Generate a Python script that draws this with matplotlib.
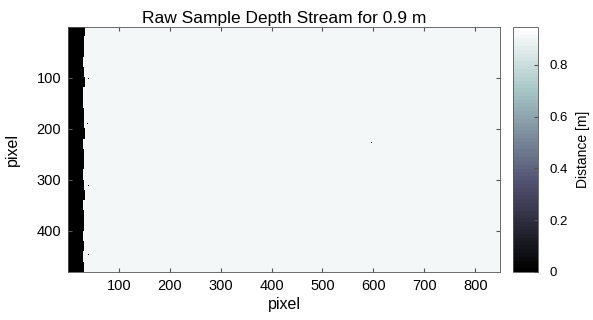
import numpy as np
import matplotlib.pyplot as plt

plt.rcParams['font.family'] = ['Liberation Sans', 'DejaVu Sans']

# sensor frame size
n_cols = 848
n_rows = 480

# flat wall distance [m] and colour limit
wall_depth = 0.905
clim_max = 0.947

# first valid column of each 20-row band (left invalid strip reads 0)
edge_cols = [33, 31, 32, 30, 31, 34, 30, 29, 31, 32, 33, 30,
             31, 32, 29, 31, 33, 30, 31, 32, 30, 31, 29, 32]

# isolated invalid pixels (col, row)
dead_cols = [39, 593, 38, 40, 39]
dead_rows = [102, 227, 190, 310, 445]

depth = np.full((n_rows, n_cols), wall_depth)
band = n_rows // len(edge_cols)
for i, c in enumerate(edge_cols):
    depth[i * band:(i + 1) * band, :c] = 0
for c, r in zip(dead_cols, dead_rows):
    depth[r:r + 2, c:c + 2] = 0

fig = plt.figure(figsize=(5.93, 3.2), dpi=100)
ax = fig.add_axes([0.1147, 0.15, 0.7285, 0.766])
cax = fig.add_axes([0.865, 0.15, 0.043, 0.766])

im = ax.imshow(depth, cmap=plt.get_cmap('bone', 64), vmin=0, vmax=clim_max,
               extent=[0.5, n_cols + 0.5, n_rows + 0.5, 0.5],
               interpolation='nearest', aspect='auto')
ax.set_xticks(range(100, 900, 100))
ax.set_yticks(range(100, 500, 100))
ax.tick_params(direction='in', length=3, labelsize=10.5, color='#555555',
               top=True, right=True, labeltop=False, labelright=False, pad=5)
for s in ax.spines.values():
    s.set_color('#555555')
    s.set_linewidth(0.6)
ax.set_xlabel('pixel', fontsize=11.5, labelpad=3)
ax.set_ylabel('pixel', fontsize=11.5, labelpad=12)
ax.set_title('Raw Sample Depth Stream for 0.9 m', fontsize=12.5, pad=3)

cb = fig.colorbar(im, cax=cax)
cb.set_ticks([0, 0.2, 0.4, 0.6, 0.8])
cb.set_ticklabels(['0', '0.2', '0.4', '0.6', '0.8'])
cb.ax.tick_params(direction='in', length=3, labelsize=9.5, color='#555555', pad=8)
cb.outline.set_edgecolor('#555555')
cb.outline.set_linewidth(0.6)
cb.set_label('Distance [m]', fontsize=10, labelpad=6)

fig.savefig('out.png', dpi=100)
